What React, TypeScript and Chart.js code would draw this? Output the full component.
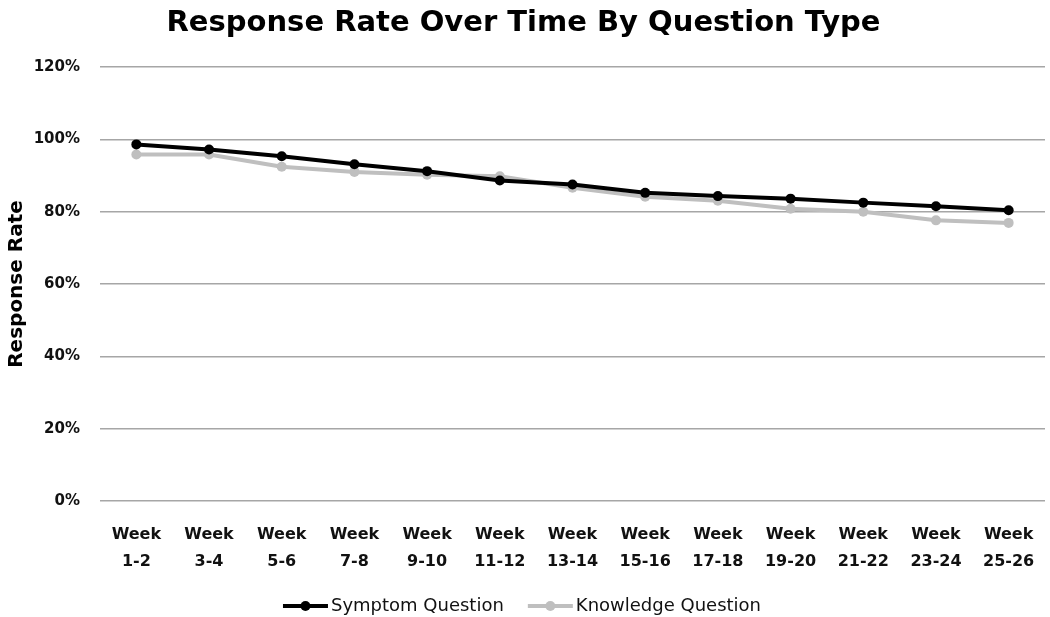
import React, { useEffect, useRef } from "react";
import { Chart, registerables } from "chart.js";

Chart.register(...registerables);

const categories: string[][] = [
  ["Week", "1-2"], ["Week", "3-4"], ["Week", "5-6"], ["Week", "7-8"], ["Week", "9-10"],
  ["Week", "11-12"], ["Week", "13-14"], ["Week", "15-16"], ["Week", "17-18"], ["Week", "19-20"],
  ["Week", "21-22"], ["Week", "23-24"], ["Week", "25-26"],
];
const symptomValues = [98.6, 97.2, 95.3, 93.1, 91.2, 88.6, 87.5, 85.2, 84.3, 83.6, 82.5, 81.5, 80.4];
const knowledgeValues = [95.8, 95.8, 92.4, 91.0, 90.2, 89.8, 86.6, 84.1, 83.0, 80.8, 80.0, 77.6, 76.9];
const seriesNames = ["Symptom Question", "Knowledge Question"];
const titleText = "Response Rate Over Time By Question Type";
const yTitle = "Response Rate";

const FONT = "'DejaVu Sans'";

const legendPlugin = {
  id: "lineLegend",
  afterDraw(chart: any) {
    const ctx = chart.ctx;
    const lineW = 45;
    const gapText = 3;
    const gapItems = 24;
    const y = 606;
    ctx.save();
    ctx.font = `18px ${FONT}`;
    const items = chart.data.datasets.map((ds: any) => ({
      ds,
      tw: ctx.measureText(ds.label).width,
    }));
    const total = items.reduce((s: number, it: any) => s + lineW + gapText + it.tw, 0) + gapItems * (items.length - 1);
    let x = (chart.width - total) / 2 - 3;
    items.forEach((it: any) => {
      ctx.strokeStyle = it.ds.borderColor;
      ctx.lineWidth = it.ds.borderWidth;
      ctx.beginPath();
      ctx.moveTo(x, y);
      ctx.lineTo(x + lineW, y);
      ctx.stroke();
      ctx.fillStyle = it.ds.pointBackgroundColor;
      ctx.beginPath();
      ctx.arc(x + lineW / 2, y, it.ds.pointRadius, 0, Math.PI * 2);
      ctx.fill();
      ctx.fillStyle = "#111";
      ctx.textBaseline = "middle";
      ctx.textAlign = "left";
      ctx.fillText(it.ds.label, x + lineW + gapText, y);
      x += lineW + gapText + it.tw + gapItems;
    });
    ctx.restore();
  },
};

export default function App() {
  const ref = useRef<HTMLCanvasElement>(null);
  useEffect(() => {
    if (!ref.current) return;
    const chart = new Chart(ref.current, {
      type: "line",
      data: {
        labels: categories,
        datasets: [
          {
            label: seriesNames[0],
            data: symptomValues,
            borderColor: "#000000",
            backgroundColor: "#000000",
            pointBackgroundColor: "#000000",
            pointBorderColor: "#000000",
            borderWidth: 4,
            pointRadius: 5,
            pointBorderWidth: 0,
          },
          {
            label: seriesNames[1],
            data: knowledgeValues,
            borderColor: "#bfbfbf",
            backgroundColor: "#bfbfbf",
            pointBackgroundColor: "#bfbfbf",
            pointBorderColor: "#bfbfbf",
            borderWidth: 4,
            pointRadius: 5,
            pointBorderWidth: 0,
          },
        ],
      },
      options: {
        animation: false,
        responsive: false,
        layout: { padding: { left: 0, right: 3, top: 0, bottom: 41 } },
        plugins: {
          legend: { display: false },
          tooltip: { enabled: false },
          title: {
            display: true,
            text: titleText,
            color: "#000",
            font: { family: FONT, size: 29, weight: "bold", lineHeight: 1.2 },
            padding: { top: 6, bottom: 26.2 },
          },
        },
        scales: {
          x: {
            offset: true,
            grid: { display: false },
            border: { display: false },
            ticks: {
              color: "#111",
              font: { family: FONT, size: 16, weight: "bold", lineHeight: 1.7 },
              padding: 12,
              maxRotation: 0,
              autoSkip: false,
            },
            afterFit: (s: any) => {
              s.height = 75;
              s.paddingLeft = 0;
              s.paddingRight = 0;
            },
          },
          y: {
            min: 0,
            max: 120,
            grid: { color: "#a6a6a6", lineWidth: 1.5, drawTicks: false },
            border: { display: false },
            ticks: {
              stepSize: 20,
              color: "#111",
              padding: 20,
              font: { family: FONT, size: 15, weight: "bold" },
              callback: (v: any) => `${v}%`,
            },
            title: {
              display: true,
              text: yTitle,
              color: "#000",
              font: { family: FONT, size: 20, weight: "bold" },
              padding: { top: 5, bottom: 0 },
            },
            afterFit: (s: any) => { s.width = 100; },
          },
        },
      },
      plugins: [legendPlugin],
    });
    return () => chart.destroy();
  }, []);
  return (
    <div style={{ position: "fixed", left: 0, top: 0, width: 1050, height: 617, background: "#fff" }}>
      <canvas ref={ref} width={1050} height={617} />
    </div>
  );
}
